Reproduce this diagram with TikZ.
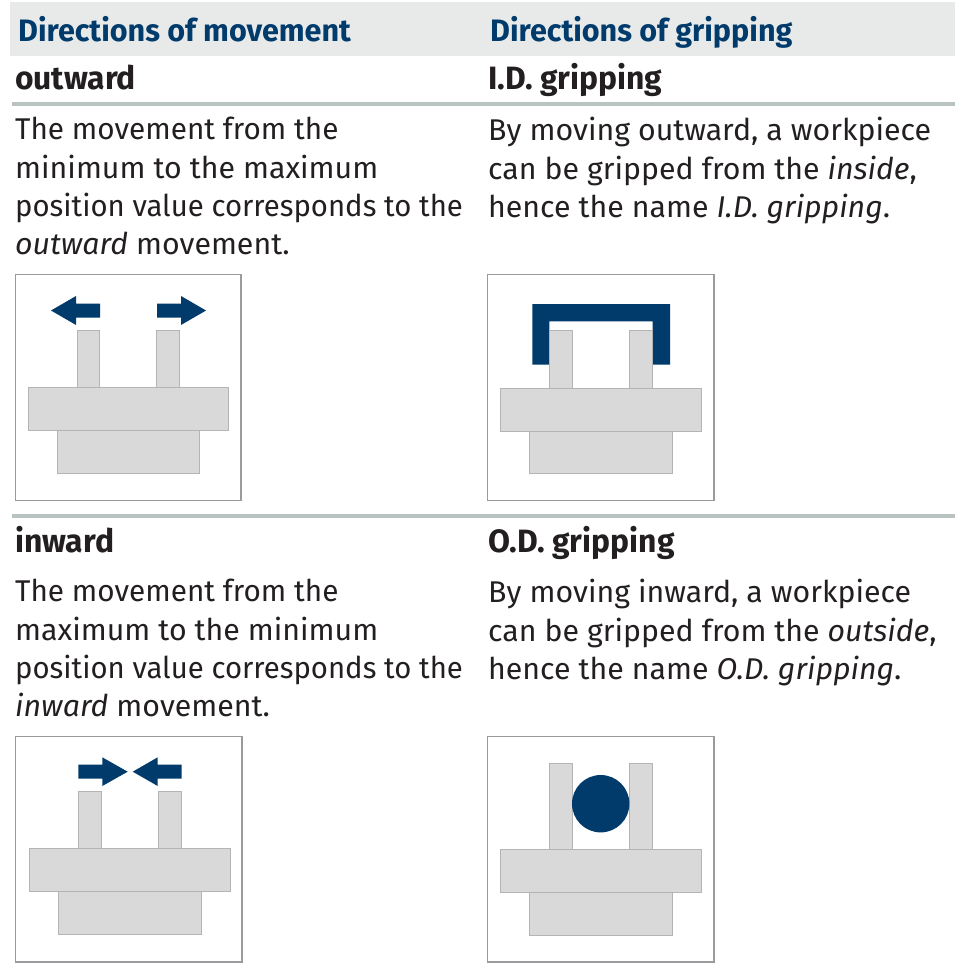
\documentclass[tikz,border=0pt]{standalone}
\usepackage{fontspec}
\setmainfont{Fira Sans}[FakeStretch=1.01]
\newfontfamily\headfam{Fira Sans}[FakeStretch=0.985]
\newfontfamily\lineA{Fira Sans}[FakeStretch=0.99]
\newfontfamily\lineB{Fira Sans}[FakeStretch=0.977]
\definecolor{navy}{HTML}{003B6B}
\definecolor{band}{HTML}{E8EAEA}
\definecolor{rulec}{HTML}{B9C4C2}
\definecolor{partfill}{HTML}{D9D9D9}
\definecolor{partline}{HTML}{B4B4B4}
\definecolor{boxline}{HTML}{9A9A9F}
\definecolor{ink}{HTML}{231F20}
\tikzset{
  x=1pt,y=-1pt,
  headtext/.style={anchor=base west,inner sep=0,text=navy,font=\headfam\fontsize{31}{36}\selectfont\bfseries},
  subtext/.style={anchor=base west,inner sep=0,text=ink,font=\headfam\fontsize{32.3}{36}\selectfont\bfseries},
  bodytext/.style={anchor=north west,inner sep=0,text=ink,align=left,font=\fontsize{30}{38.4}\selectfont},
  framebox/.style={draw=boxline,line width=1.1pt,fill=white},
  part/.style={draw=partline,line width=0.7pt,fill=partfill},
  sepline/.style={fill=rulec,draw=none},
}
\newcommand{\gripbase}[5]{% x-offset, y-top of stud, y plate top, y plate bottom, y base bottom
  \draw[part] (#1+61.8,#2) rectangle (#1+85.2,#3);
  \draw[part] (#1+141.8,#2) rectangle (#1+165.2,#3);
  \draw[part] (#1+41.8,#4) rectangle (#1+185.2,#5);
  \draw[part] (#1+12.8,#3) rectangle (#1+214.2,#4);
}
\begin{document}
\begin{tikzpicture}
\useasboundingbox (0,0) rectangle (955,971);
\fill[white] (0,0) rectangle (955,971);
% bands and rules
\fill[band] (10,2) rectangle (955,56);
\fill[sepline] (12,102) rectangle (955,106);
\fill[sepline] (12,514) rectangle (955,518);
% headings
\node[headtext] (h1) at (18,42) {Directions of movement};
\node[headtext] (h2) at (490,42) {Directions of gripping};
\node[subtext] (s1) at (15,90) {outward};
\node[subtext] (s2) at (488,90) {I.D. gripping};
\node[subtext] (s3) at (15,552) {inward};
\node[subtext] (s4) at (488,552) {O.D. gripping};
% body
\node[bodytext] (b1) at (15,117) {{\lineA The movement from the}\\minimum to the maximum\\{\lineB position value corresponds to the}\\\textit{outward} movement.};
\node[bodytext] (b2) at (488,117) {By moving outward, a workpiece\\can be gripped from the \textit{inside},\\hence the name \textit{I.D. gripping}.};
\node[bodytext] (b3) at (15,579) {{\lineA The movement from the}\\maximum to the minimum\\{\lineB position value corresponds to the}\\\textit{inward} movement.};
\node[bodytext] (b4) at (488,579) {By moving inward, a workpiece\\can be gripped from the \textit{outside},\\hence the name \textit{O.D. gripping}.};
% frame 1: outward
\draw[framebox] (15.5,274.5) rectangle (241,500.5);
\draw[part] (77,330) rectangle (99.5,387.3);
\draw[part] (156.5,330) rectangle (179.5,387.3);
\draw[part] (57,430.5) rectangle (199.5,473.5);
\draw[part] (28,387.3) rectangle (228.5,430.5);
\fill[navy] (51,310.5) -- (76,296) -- (76,303.5) -- (100,303.5) -- (100,317.5) -- (76,317.5) -- (76,325) -- cycle;
\fill[navy] (206,310.5) -- (181,296) -- (181,303.5) -- (157,303.5) -- (157,317.5) -- (181,317.5) -- (181,325) -- cycle;
% frame 2: I.D. gripping
\draw[framebox] (487.5,274.5) rectangle (714,500.5);
\fill[navy] (532.3,364.7) -- (532.3,304) -- (670,304) -- (670,364.7) -- (652.7,364.7) -- (652.7,321.3) -- (549.3,321.3) -- (549.3,364.7) -- cycle;
\gripbase{487.5}{330}{388}{431}{473.7}
% frame 3: inward
\draw[framebox] (15.5,736.7) rectangle (242,962);
\gripbase{16.5}{791.3}{848.3}{891}{934.3}
\fill[navy] (127.7,771.7) -- (102.3,757.3) -- (102.3,764.5) -- (78.3,764.5) -- (78.3,778.5) -- (102.3,778.5) -- (102.3,786) -- cycle;
\fill[navy] (132.7,771.7) -- (157.7,757.3) -- (157.7,764.5) -- (181.7,764.5) -- (181.7,778.5) -- (157.7,778.5) -- (157.7,786) -- cycle;
% frame 4: O.D. gripping
\draw[framebox] (487.5,736.7) rectangle (714,962);
\gripbase{487.5}{763.3}{849.3}{892.3}{935}
\fill[navy] (600.7,803.7) circle[radius=28.7];
\end{tikzpicture}
\end{document}
